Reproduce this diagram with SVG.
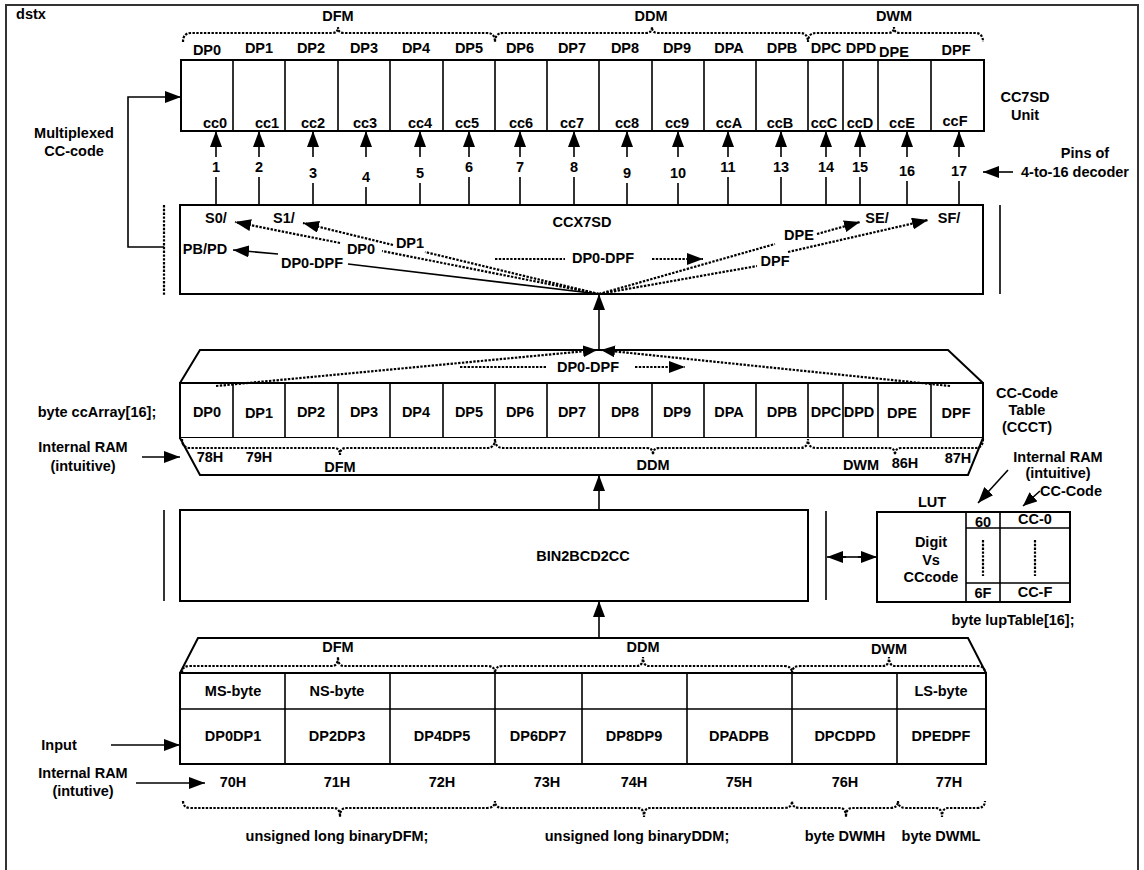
<svg xmlns="http://www.w3.org/2000/svg" width="1144" height="870" viewBox="0 0 1144 870">
<defs>
<style>
text{font-family:"Liberation Sans",Arial,sans-serif;font-weight:bold;font-size:14.5px;fill:#000;text-anchor:middle}
.box{fill:#fff;stroke:#000;stroke-width:2}
.ln{fill:none;stroke:#000;stroke-width:1.6}
.dt{fill:none;stroke:#000;stroke-width:2.2;stroke-dasharray:2.4 1.4}
.br{fill:none;stroke:#000;stroke-width:2.2;stroke-dasharray:2.4 1.4}
</style>
<marker id="ah" viewBox="0 0 16 12" refX="16" refY="6" markerWidth="16" markerHeight="12" markerUnits="userSpaceOnUse" orient="auto"><path d="M0,0 L16,6 L0,12 z" fill="#000"/></marker>
<marker id="ahs" viewBox="0 0 14 12" refX="14" refY="6" markerWidth="14" markerHeight="12" markerUnits="userSpaceOnUse" orient="auto"><path d="M0,0 L14,6 L0,12 z" fill="#000"/></marker>
</defs>
<rect width="1144" height="870" fill="#fff"/>
<path d="M6,878 L6,5 L1138,5 L1138,878" fill="none" stroke="#333" stroke-width="2"/>
<text x="31" y="19">dstx</text>

<!-- CC7SD unit -->
<g id="cc7sd">
<rect class="box" x="181" y="60" width="803" height="71"/>
<path class="ln" d="M233,60V131M285,60V131M338,60V131M390,60V131M443,60V131M495,60V131M547,60V131M599,60V131M652,60V131M704,60V131M756,60V131M808,60V131M843,60V131M878,60V131M931,60V131"/>
<text x="207" y="55">DP0</text><text x="259" y="53">DP1</text><text x="311" y="53">DP2</text><text x="364" y="53">DP3</text>
<text x="416" y="53">DP4</text><text x="469" y="53">DP5</text><text x="520" y="53">DP6</text><text x="572" y="53">DP7</text>
<text x="625" y="53">DP8</text><text x="677" y="53">DP9</text><text x="729" y="53">DPA</text><text x="782" y="53">DPB</text>
<text x="826" y="53">DPC</text><text x="861" y="53">DPD</text><text x="894" y="57">DPE</text><text x="956" y="55">DPF</text>
<text x="215" y="128">cc0</text><text x="267" y="128">cc1</text><text x="313" y="128">cc2</text><text x="365" y="128">cc3</text>
<text x="420" y="128">cc4</text><text x="467" y="128">cc5</text><text x="521" y="128">cc6</text><text x="572" y="128">cc7</text>
<text x="627" y="128">cc8</text><text x="677" y="128">cc9</text><text x="729" y="128">ccA</text><text x="780" y="128">ccB</text>
<text x="824" y="128">ccC</text><text x="860" y="128">ccD</text><text x="902" y="128">ccE</text><text x="955" y="126">ccF</text>
<text x="338" y="21">DFM</text><text x="651" y="21">DDM</text><text x="894" y="21">DWM</text>
<path class="br" d="M183,42 Q183,33 191,33 L332,33 Q338,33 338,27 Q338,33 344,33 L487,33 Q495,33 495,42 Q495,33 503,33 L646,33 Q652,33 652,27 Q652,33 658,33 L800,33 Q808,33 808,42 Q808,33 816,33 L888,33 Q894,33 894,27 Q894,33 900,33 L975,33 Q983,33 983,42"/>
<text x="1025" y="102">CC7SD</text><text x="1025" y="120">Unit</text>
</g>

<!-- CCX7SD -->
<g id="ccx7sd">
<rect class="box" x="180" y="205" width="803" height="89"/>
<text x="582" y="227">CCX7SD</text>
<text x="216" y="223">S0/</text><text x="284" y="223">S1/</text>
<text x="205" y="254">PB/PD</text>
<text x="361" y="254">DP0</text><text x="410" y="248">DP1</text>
<text x="312" y="268">DP0-DPF</text>
<text x="603" y="263">DP0-DPF</text>
<text x="799" y="240">DPE</text><text x="877" y="223">SE/</text><text x="949" y="223">SF/</text>
<text x="775" y="266">DPF</text>
</g>

<!-- CC-Code table -->
<g id="ccct">
<path class="box" d="M180,383 L200,350 L948,350 L983,383"/>
<rect class="box" x="180" y="383" width="803" height="55"/>
<path class="box" d="M180,438 L200,475 L968,475 L983,438"/>
<path class="ln" d="M233,383V438M285,383V438M338,383V438M390,383V438M443,383V438M495,383V438M547,383V438M599,383V438M652,383V438M704,383V438M756,383V438M808,383V438M843,383V438M878,383V438M931,383V438"/>
<text x="207" y="417">DP0</text><text x="259" y="418">DP1</text><text x="311" y="417">DP2</text><text x="364" y="417">DP3</text>
<text x="416" y="417">DP4</text><text x="469" y="417">DP5</text><text x="520" y="417">DP6</text><text x="572" y="417">DP7</text>
<text x="625" y="417">DP8</text><text x="677" y="417">DP9</text><text x="729" y="417">DPA</text><text x="782" y="417">DPB</text>
<text x="826" y="417">DPC</text><text x="859" y="417">DPD</text><text x="902" y="418">DPE</text><text x="956" y="418">DPF</text>
<text x="588" y="372">DP0-DPF</text>
<path class="br" d="M182,439 Q182,448 190,448 L334,448 Q340,448 340,455 Q340,448 346,448 L487,448 Q495,448 495,439 Q495,448 503,448 L647,448 Q653,448 653,455 Q653,448 659,448 L800,448 Q808,448 808,439 Q808,448 816,448 L889,448 Q895,448 895,455 Q895,448 901,448 L975,448 Q983,448 983,439"/>
<text x="210" y="462">78H</text><text x="259" y="462">79H</text>
<text x="340" y="472">DFM</text><text x="653" y="470">DDM</text><text x="861" y="470">DWM</text>
<text x="905" y="468">86H</text><text x="958" y="463">87H</text>
<text x="1027" y="398">CC-Code</text><text x="1027" y="415">Table</text><text x="1027" y="432">(CCCT)</text>
<text x="97" y="417">byte ccArray[16];</text>
<text x="83" y="452">Internal RAM</text><text x="83" y="471">(intuitive)</text>
</g>

<!-- BIN2BCD2CC -->
<g id="bin2bcd2cc">
<rect class="box" x="180" y="510" width="628" height="91"/>
<text x="583" y="561">BIN2BCD2CC</text>
</g>

<!-- LUT -->
<g id="lut">
<rect class="box" x="877" y="512" width="193" height="90"/>
<path class="ln" d="M966,512V602M1000,512V602M966,528H1070M966,583H1070"/>
<path class="dt" d="M983,540V576M1035,540V576"/>
<text x="983" y="527">60</text><text x="1035" y="524">CC-0</text>
<text x="983" y="598">6F</text><text x="1035" y="597">CC-F</text>
<text x="931" y="547">Digit</text><text x="931" y="565">Vs</text><text x="931" y="582">CCcode</text>
<text x="932" y="507">LUT</text>
<text x="1013" y="625">byte lupTable[16];</text>
<text x="1058" y="462">Internal RAM</text><text x="1058" y="478">(intuitive)</text>
<text x="1071" y="496">CC-Code</text>
</g>

<!-- Input table -->
<g id="input">
<path class="box" d="M180,673 L198,638 L968,638 L986,673"/>
<rect class="box" x="180" y="673" width="806" height="91"/>
<path class="ln" d="M180,709H986M285,673V764M390,673V764M495,673V764M582,673V764M687,673V764M792,673V764M897,673V764"/>
<path class="br" d="M182,673 Q182,666 190,666 L332,666 Q338,666 338,657 Q338,666 344,666 L487,666 Q495,666 495,673 Q495,666 503,666 L637,666 Q643,666 643,657 Q643,666 649,666 L784,666 Q792,666 792,673 Q792,666 800,666 L883,666 Q889,666 889,657 Q889,666 895,666 L977,666 Q985,666 985,673"/>
<text x="338" y="652">DFM</text><text x="643" y="652">DDM</text><text x="889" y="654">DWM</text>
<text x="233" y="696">MS-byte</text><text x="337" y="696">NS-byte</text><text x="941" y="696">LS-byte</text>
<text x="233" y="741">DP0DP1</text><text x="337" y="741">DP2DP3</text><text x="442" y="741">DP4DP5</text><text x="538" y="741">DP6DP7</text>
<text x="634" y="741">DP8DP9</text><text x="739" y="741">DPADPB</text><text x="845" y="741">DPCDPD</text><text x="941" y="741">DPEDPF</text>
<text x="233" y="787">70H</text><text x="337" y="787">71H</text><text x="442" y="787">72H</text><text x="547" y="787">73H</text>
<text x="634" y="787">74H</text><text x="739" y="787">75H</text><text x="845" y="787">76H</text><text x="949" y="787">77H</text>
<path class="br" d="M183,801 Q183,808 191,808 L334,808 Q340,808 340,817 Q340,808 346,808 L487,808 Q495,808 495,801 Q495,808 503,808 L638,808 Q644,808 644,817 Q644,808 650,808 L784,808 Q792,808 792,801 Q792,808 800,808 L840,808 Q846,808 846,817 Q846,808 852,808 L890,808 Q898,808 898,801 Q898,808 906,808 L936,808 Q942,808 942,817 Q942,808 948,808 L977,808 Q985,808 985,801"/>
<text x="337" y="841">unsigned long binaryDFM;</text>
<text x="637" y="841">unsigned long binaryDDM;</text>
<text x="845" y="841">byte DWMH</text><text x="941" y="841">byte DWML</text>
<text x="59" y="750">Input</text>
<text x="83" y="778">Internal RAM</text><text x="83" y="796">(intutive)</text>
</g>

<!-- left/right labels -->
<g id="labels">
<text x="74" y="138">Multiplexed</text><text x="74" y="156">CC-code</text>
<text x="1085" y="158">Pins of</text><text x="1075" y="177">4-to-16 decoder</text>
</g>

<!-- connectors -->
<g id="connectors">
<path class="ln" d="M216,177V205M259,177V205M313,183V205M366,187V205M420,183V205M469,177V205M520,177V205M574,177V205M627,183V205M678,183V205M728,177V205M781,177V205M826,177V205M860,177V205M907,181V205M959,181V205"/>
<g class="ln" marker-end="url(#ah)">
<path d="M216,157V131"/><path d="M259,157V131"/><path d="M313,157V131"/><path d="M366,157V131"/>
<path d="M420,157V131"/><path d="M469,157V131"/><path d="M520,157V131"/><path d="M574,157V131"/>
<path d="M627,157V131"/><path d="M678,157V131"/><path d="M728,157V131"/><path d="M781,157V131"/>
<path d="M826,157V131"/><path d="M860,157V131"/><path d="M907,157V131"/><path d="M959,157V131"/>
</g>
<text x="216" y="172">1</text><text x="259" y="172">2</text><text x="313" y="178">3</text><text x="366" y="182">4</text>
<text x="420" y="178">5</text><text x="469" y="172">6</text><text x="520" y="172">7</text><text x="574" y="172">8</text>
<text x="627" y="178">9</text><text x="678" y="178">10</text><text x="728" y="172">11</text><text x="781" y="172">13</text>
<text x="826" y="172">14</text><text x="860" y="172">15</text><text x="907" y="176">16</text><text x="959" y="176">17</text>
<path class="ln" d="M1013,172H983" marker-end="url(#ah)"/>

<path class="dt" d="M164,205V296"/>
<path class="ln" d="M164,247H128V97H181" marker-end="url(#ah)"/>
<path class="ln" d="M1000,205V294"/>

<path class="dt" d="M599,294L382,251"/>
<path class="dt" d="M340,243L235,222" marker-end="url(#ah)"/>
<path class="dt" d="M599,294L425,252"/>
<path class="dt" d="M393,245L303,223" marker-end="url(#ah)"/>
<path class="ln" d="M599,294L348,264"/>
<path class="ln" d="M278,254L233,250" marker-end="url(#ah)"/>
<path class="dt" d="M599,294L775,244"/>
<path class="dt" d="M817,234L860,222" marker-end="url(#ah)"/>
<path class="dt" d="M599,294L757,266"/>
<path class="dt" d="M788,252L928,220" marker-end="url(#ah)"/>
<path class="dt" d="M495,259H565"/>
<path class="dt" d="M652,259H703" marker-end="url(#ah)"/>

<path class="ln" d="M599,349V294" marker-end="url(#ah)"/>
<path class="ln" d="M599,510V475" marker-end="url(#ah)"/>
<path class="ln" d="M599,638V601" marker-end="url(#ah)"/>

<path class="dt" d="M216,386L597,350" marker-end="url(#ahs)"/>
<path class="dt" d="M950,386L601,350" marker-end="url(#ahs)"/>
<path class="dt" d="M460,367H547"/>
<path class="dt" d="M635,367H685" marker-end="url(#ah)"/>
<path class="ln" d="M142,457H180" marker-end="url(#ah)"/>

<path class="ln" d="M164,510V601"/>
<path class="ln" d="M826,511V600"/>
<path class="ln" d="M842,557H862"/>
<path class="ln" d="M846,557H827" marker-end="url(#ah)"/>
<path class="ln" d="M858,557H877" marker-end="url(#ah)"/>
<path class="ln" d="M1008,470L978,503" marker-end="url(#ah)"/>
<path class="ln" d="M1040,491L1023,506" marker-end="url(#ahs)"/>

<path class="ln" d="M111,745H180" marker-end="url(#ah)"/>
<path class="ln" d="M136,783H205" marker-end="url(#ah)"/>
</g>
</svg>
